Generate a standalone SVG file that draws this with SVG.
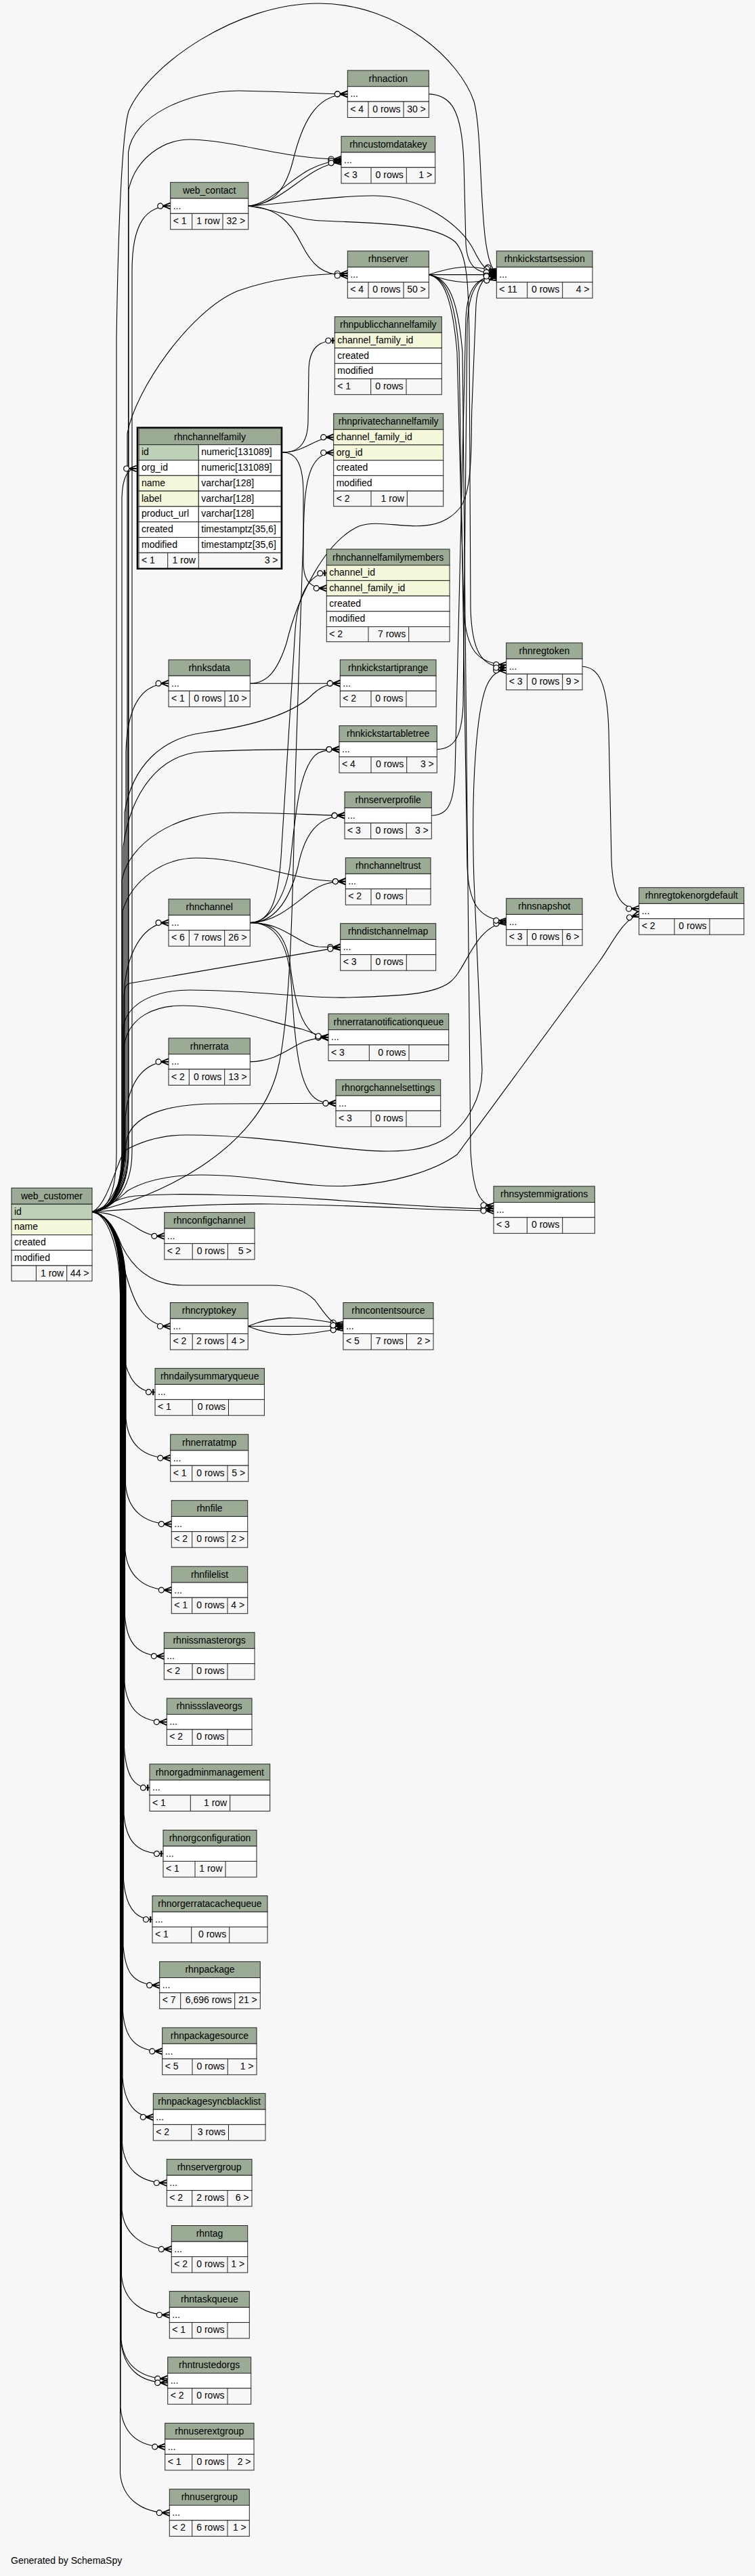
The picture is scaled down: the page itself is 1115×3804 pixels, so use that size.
<svg xmlns="http://www.w3.org/2000/svg" width="1115" height="3804" viewBox="0 0 1115 3804">
<style>
text{font-family:"Liberation Sans",Arial,Helvetica,sans-serif;font-size:14px;fill:#000}
.t{text-anchor:middle}
.r{text-anchor:end}
.h{fill:#9bab96;stroke:#222;stroke-width:1}
.w{fill:#fff;stroke:#222;stroke-width:1}
.f{fill:#f7f7f7;stroke:#222;stroke-width:1}
.k{fill:#bed1b8;stroke:#222;stroke-width:1}
.i{fill:#f4f7da;stroke:#222;stroke-width:1}
.l{stroke:#222;stroke-width:1;fill:none}
.e{fill:none;stroke:#000;stroke-width:1.1;marker-end:url(#crow)}
.o{fill:none;stroke:#000;stroke-width:1.1;marker-end:url(#tee)}
</style>
<defs>
<marker id="crow" markerUnits="userSpaceOnUse" orient="auto" markerWidth="30" markerHeight="20" viewBox="-22 -10 30 20" refX="0" refY="0" overflow="visible">
<path d="M-11,0L0,-4.5M-11,0L0,0M-11,0L0,4.5" fill="none" stroke="#000" stroke-width="1.8"/>
<circle cx="-15" cy="0" r="4" fill="#f7f7f7" stroke="#000" stroke-width="1.2"/>
</marker>
<marker id="tee" markerUnits="userSpaceOnUse" orient="auto" markerWidth="30" markerHeight="20" viewBox="-22 -10 30 20" refX="0" refY="0" overflow="visible">
<path d="M-6,0L0,0" fill="none" stroke="#000" stroke-width="1.2"/>
<rect x="-4" y="-4.5" width="2.4" height="9" fill="#000"/>
<circle cx="-9.5" cy="0" r="4" fill="#f7f7f7" stroke="#000" stroke-width="1.2"/>
</marker>
</defs>
<rect x="0" y="0" width="1115" height="3804" fill="#f7f7f7"/>
<g id="connectors">
<path class="e" d="M136,1789.6 C158,1789 195,1765 195,1700 L195,400 C195,330 215,304.2 251.7,304.2"/>
<path class="e" d="M136,1789.6 C158,1789 172,1765 172,1700 L172,500 C175,300 182,190 190,164 C220,95 350,5 470,5 C590,5 680,90 700,150 C715,205 705,385 733.3,403"/>
<path class="e" d="M136,1789.6 C158,1789 189.5,1765 189.5,1700 L189.5,225 C196,170 280,134 353,134 C420,135 470,138.9 513.3,138.9"/>
<path class="e" d="M136,1789.6 C158,1789 190,1765 190,1700 L190,280 C200,235 240,205 283,206 C350,208 420,235 504,235"/>
<path class="e" d="M136,1789.6 C158,1789 188,1765 188,1700 L188,640 C200,575 280,460 350,430 C400,412 460,404 513.3,404"/>
<path class="e" d="M136,1789.6 C158,1789 180,1765 180,1700 L180,735 C181,705 188,692 201.7,692"/>
<path class="e" d="M136,1789.6 C230,1770 380,1700 410,1580 C430,1500 433,1300 436,1150 L449,760 C451,700 462,668.5 492.7,668.5"/>
<path class="o" d="M417.3,668 C445,668 455,650 455,620 L456,545 C457,515 470,503 494.3,503"/>
<path class="e" d="M417.3,668 C450,668 465,645.7 492.7,645.7"/>
<path class="e" d="M417.3,668 C440,668 448,690 448,730 L448,830 C448,860 460,868.7 482.3,868.7"/>
<path class="o" d="M369.3,1362.6 C400,1362 412,1330 416,1250 L436,930 C440,880 455,848 482.3,846"/>
<path class="e" d="M369.3,1009.2 L502.3,1009.2"/>
<path class="e" d="M369.3,1009.2 C395,1009 410,990 423,950 C440,880 480,800 530,777 C570,762 640,800 680,749 C700,720 695,640 697,600 L703,450 C705,420 715,406 733.3,406"/>
<path class="e" d="M136,1789.6 C158,1789 186,1765 186,1700 L186,1110 C188,1040 210,1009.2 249,1009.2"/>
<path class="e" d="M136,1789.6 C158,1789 184,1765 184,1700 L184,1200 C195,1130 240,1090 300,1082 C390,1070 440,1048 462,1025 C475,1013 487,1009.2 502.3,1009.2"/>
<path class="e" d="M136,1789.6 C158,1789 182,1765 182,1700 L182,1250 C193,1170 235,1113 300,1110 C380,1106 440,1106.6 501,1106.6"/>
<path class="e" d="M369.3,1362.6 C395,1362 420,1330 428,1280 C435,1220 440,1130 470,1112 C480,1107 490,1106.6 501,1106.6"/>
<path class="e" d="M136,1789.6 C158,1789 180,1765 180,1700 L180,1300 C190,1245 260,1200 340,1200 C420,1200 470,1204.2 509,1204.2"/>
<path class="e" d="M369.3,1362.6 C410,1362 430,1320 440,1280 C450,1230 470,1205 509,1204.2"/>
<path class="e" d="M136,1789.6 C158,1789 181,1765 181,1700 L181,1345 C195,1300 240,1267 290,1267 C340,1267 380,1280 413,1288 C450,1297 475,1301.6 510.3,1301.6"/>
<path class="e" d="M369.3,1362.6 C410,1362 440,1330 460,1316 C475,1305 490,1301.6 510.3,1301.6"/>
<path class="e" d="M369.3,1362.6 C420,1362 440,1395 470,1398 C480,1398.6 490,1398.6 502.7,1398.6"/>
<path class="e" d="M136,1789.6 C158,1789 183,1765 183,1700 L183,1470 C184,1458 186,1453 192,1452 L502.7,1398.6"/>
<path class="e" d="M136,1789.6 C158,1789 184,1765 184,1700 L184,1455 C190,1400 215,1362.6 249,1362.6"/>
<path class="e" d="M136,1789.6 C158,1789 182,1765 182,1700 L182,1515 C190,1480 230,1462 280,1462 C380,1462 450,1475 513,1473 C580,1471 640,1470 665,1450 C690,1430 700,1368 747.7,1362"/>
<path class="e" d="M136,1789.6 C158,1789 183,1765 183,1700 L183,1545 C190,1500 230,1485 270,1485 C340,1485 400,1510 446.7,1520 C465,1526 475,1531.9 485,1531.9"/>
<path class="e" d="M369.3,1567.9 C410,1567 430,1545 450,1538 C465,1533 475,1531.9 485,1531.9"/>
<path class="e" d="M369.3,1362.6 C400,1362 420,1375 428,1420 C435,1480 445,1520 470,1530 L485,1531.9"/>
<path class="e" d="M369.3,1362.6 C405,1362 425,1390 430,1450 C436,1540 440,1610 470,1625 C478,1629 488,1629.2 496,1629.2"/>
<path class="e" d="M136,1789.6 C158,1789 185,1760 185,1690 L185,1650 C190,1600 210,1567.9 249,1567.9"/>
<path class="e" d="M136,1789.6 C160,1789 186,1740 186,1690 C190,1645 250,1630 320,1630 L496,1629.2"/>
<path class="e" d="M136,1789.6 C160,1785 175,1770 189,1758 C220,1740 260,1735 298,1735 C380,1735 450,1755 517,1751 C580,1747 640,1730 675,1705 L885,1420 C905,1392 920,1358 943.7,1350"/>
<path class="e" d="M136,1789.6 C160,1780 175,1705 186,1698 C210,1685 240,1676 275,1676 C400,1676 500,1700 574,1700 C620,1700 645,1690 660,1680 C690,1660 712,1620 712,1580 L700,1300 C695,1150 705,1040 720,1010 C727,996 735,990 747.7,990"/>
<path class="e" d="M136,1789.6 C160,1780 175,1768 200,1766 C260,1762 300,1764 344,1765 C420,1766 460,1770 505,1773 C600,1780 680,1785 729,1785"/>
<path class="e" d="M136,1789.6 C200,1785 300,1777 400,1778 C550,1780 650,1788 729,1788"/>
<path class="e" d="M633.3,405.6 C662,410 676,440 683,520 L695,1700 C698,1750 705,1779 729,1781"/>
<path class="e" d="M633.3,405.6 C655,410 668,440 675,520 L685,900 C688,960 705,980 747.7,982"/>
<path class="e" d="M633.3,405.6 C658,410 672,440 678,520 L690,1280 C692,1330 705,1358 747.7,1360"/>
<path class="e" d="M633.3,405.6 C670,393 695,390 733.3,401"/>
<path class="e" d="M633.3,405.6 L733.3,405.6"/>
<path class="e" d="M633.3,405.6 C670,418 695,421 733.3,410"/>
<path class="e" d="M633.3,138.9 C665,140 682,160 685,240 L688,360 C690,395 705,404 733.3,404"/>
<path class="e" d="M366.7,304.2 C430,300 490,289 551,289 C620,289 680,330 700,370 C710,390 718,402 733.3,403"/>
<path class="e" d="M366.7,304.2 C410,310 440,325 476,326 C560,330 640,330 672,357 C690,375 692,420 693,500 L695,900 C697,960 710,986 747.7,986"/>
<path class="e" d="M366.7,304.2 C400,302 420,285 432,240 C445,185 465,138.9 513.3,138.9"/>
<path class="e" d="M366.7,304.2 C410,300 440,240 504,237"/>
<path class="e" d="M366.7,304.2 C420,302 450,245 504,239"/>
<path class="e" d="M366.7,304.2 C410,306 430,330 445,360 C460,390 475,407 513.3,407"/>
<path class="e" d="M645.3,1106.6 C670,1106 682,1090 684,1040 L690,480 C692,430 705,407 733.3,407"/>
<path class="e" d="M637.3,1204.2 C660,1204 670,1190 672,1140 L688,470 C690,425 705,408 733.3,408"/>
<path class="e" d="M860,984.2 C885,985 897,1010 899,1080 L903,1270 C905,1320 915,1342 943.7,1342"/>
<path class="e" d="M366.2,1958.5 C410,1940 450,1945 506.9,1956"/>
<path class="e" d="M366.2,1958.5 L506.9,1958.5"/>
<path class="e" d="M366.2,1958.5 C410,1977 450,1972 506.9,1961"/>
<path class="e" d="M136,1789.6 C160,1795 170,1815 180,1840 C200,1880 230,1898 270,1898 L400,1898 C430,1898 450,1905 465,1920 C480,1940 490,1957 506.9,1958.5"/>
<path class="e" d="M136,1789.6 C165,1790 180,1800 200,1812 C215,1822 225,1825.3 242.8,1825.3"/>
<path class="e" d="M136,1789.6 C160,1792 170,1820 180,1860 C195,1920 210,1958.5 251.4,1958.5"/>
<path class="o" d="M136,1789.6 C158,1792 176,1840 177,1900 L181,1990 C185,2030 200,2055.7 229,2055.7"/>
<path class="e" d="M136,1789.6 C160,1792 186,1830 186,1900 L186,2095.1 C189,2131.1 209.7,2153.1 251.7,2153.1"/>
<path class="e" d="M136,1789.6 C160,1792 185.5,1830 185.5,1900 L185.5,2192.6 C188.5,2228.6 211.3,2250.6 253.3,2250.6"/>
<path class="e" d="M136,1789.6 C160,1792 185,1830 185,1900 L185,2290.1 C188,2326.1 211.3,2348.1 253.3,2348.1"/>
<path class="e" d="M136,1789.6 C160,1792 184.5,1830 184.5,1900 L184.5,2387.6 C187.5,2423.6 200.3,2445.6 242.3,2445.6"/>
<path class="e" d="M136,1789.6 C160,1792 184,1830 184,1900 L184,2484.8 C187,2520.8 204.3,2542.8 246.3,2542.8"/>
<path class="o" d="M136,1789.6 C160,1792 183.5,1830 183.5,1900 L183.5,2581.9 C186.5,2620 196,2639.9 221,2639.9"/>
<path class="o" d="M136,1789.6 C160,1792 183,1830 183,1900 L183,2679.4 C186,2715.4 199,2737.4 241,2737.4"/>
<path class="o" d="M136,1789.6 C160,1792 182.5,1830 182.5,1900 L182.5,2776.5 C185.5,2815 200,2834.5 225,2834.5"/>
<path class="e" d="M136,1789.6 C160,1792 182,1830 182,1900 L182,2873.7 C185,2909.7 193.7,2931.7 235.7,2931.7"/>
<path class="e" d="M136,1789.6 C160,1792 181.5,1830 181.5,1900 L181.5,2971.2 C184.5,3007.2 197.7,3029.2 239.7,3029.2"/>
<path class="e" d="M136,1789.6 C160,1792 181,1830 181,1900 L181,3068.3 C184,3106 200,3126.3 226.3,3126.3"/>
<path class="e" d="M136,1789.6 C160,1792 180.5,1830 180.5,1900 L180.5,3165.5 C183.5,3201.5 204.3,3223.5 246.3,3223.5"/>
<path class="e" d="M136,1789.6 C160,1792 180,1830 180,1900 L180,3263.4 C183,3299.4 211.3,3321.4 253.3,3321.4"/>
<path class="e" d="M136,1789.6 C160,1792 179.5,1830 179.5,1900 L179.5,3360.5 C182.5,3396.5 208.3,3418.5 250.3,3418.5"/>
<path class="e" d="M136,1789.6 C160,1792 179,1830 179,1900 L179,3454.7 C182,3490.7 205.7,3512.7 247.7,3512.7"/>
<path class="e" d="M136,1789.6 C160,1792 178.5,1830 178.5,1900 L178.5,3455 C181.5,3496.7 205.7,3518.7 247.7,3518.7"/>
<path class="e" d="M136,1789.6 C160,1792 178,1830 178,1900 L178,3555.2 C181,3591.2 201.7,3613.2 243.7,3613.2"/>
<path class="e" d="M136,1789.6 C160,1792 177.5,1830 177.5,1900 L177.5,3652.7 C180.5,3688.7 208.3,3710.7 250.3,3710.7"/>
</g>
<g id="rhnaction"><rect class="h" x="513.3" y="104" width="120" height="23.7"/><rect class="w" x="513.3" y="127.7" width="120" height="22.3"/><rect class="f" x="513.3" y="150" width="120" height="23.5"/><path class="l" d="M544,150V173.5M596,150V173.5"/><text class="t" x="573.3" y="120.5">rhnaction</text><text x="517.3" y="143.3">...</text><text x="517.3" y="165.5">&lt; 4</text><text class="r" x="591.5" y="165.5">0 rows</text><text class="r" x="628.8" y="165.5">30 &gt;</text></g>
<g id="rhncustomdatakey"><rect class="h" x="504" y="201.3" width="138.7" height="23.7"/><rect class="w" x="504" y="225" width="138.7" height="22.3"/><rect class="f" x="504" y="247.3" width="138.7" height="23.5"/><path class="l" d="M548,247.3V270.8M600.3,247.3V270.8"/><text class="t" x="573.35" y="217.8">rhncustomdatakey</text><text x="508" y="240.6">...</text><text x="508" y="262.8">&lt; 3</text><text class="r" x="595.8" y="262.8">0 rows</text><text class="r" x="638.2" y="262.8">1 &gt;</text></g>
<g id="web_contact"><rect class="h" x="251.7" y="269.3" width="115" height="23.7"/><rect class="w" x="251.7" y="293" width="115" height="22.3"/><rect class="f" x="251.7" y="315.3" width="115" height="23.5"/><path class="l" d="M283.7,315.3V338.8M329,315.3V338.8"/><text class="t" x="309.2" y="285.8">web_contact</text><text x="255.7" y="308.6">...</text><text x="255.7" y="330.8">&lt; 1</text><text class="r" x="324.5" y="330.8">1 row</text><text class="r" x="362.2" y="330.8">32 &gt;</text></g>
<g id="rhnserver"><rect class="h" x="513.3" y="370.7" width="120" height="23.7"/><rect class="w" x="513.3" y="394.4" width="120" height="22.3"/><rect class="f" x="513.3" y="416.7" width="120" height="23.5"/><path class="l" d="M544,416.7V440.2M596,416.7V440.2"/><text class="t" x="573.3" y="387.2">rhnserver</text><text x="517.3" y="410">...</text><text x="517.3" y="432.2">&lt; 4</text><text class="r" x="591.5" y="432.2">0 rows</text><text class="r" x="628.8" y="432.2">50 &gt;</text></g>
<g id="rhnkickstartsession"><rect class="h" x="733.3" y="370.7" width="141.7" height="23.7"/><rect class="w" x="733.3" y="394.4" width="141.7" height="22.3"/><rect class="f" x="733.3" y="416.7" width="141.7" height="23.5"/><path class="l" d="M778.7,416.7V440.2M830.7,416.7V440.2"/><text class="t" x="804.15" y="387.2">rhnkickstartsession</text><text x="737.3" y="410">...</text><text x="737.3" y="432.2">&lt; 11</text><text class="r" x="826.2" y="432.2">0 rows</text><text class="r" x="870.5" y="432.2">4 &gt;</text></g>
<g id="rhnpublicchannelfamily"><rect class="h" x="494.3" y="467.7" width="158" height="23.6"/><rect class="i" x="494.3" y="491.3" width="158" height="22.7"/><rect class="w" x="494.3" y="514" width="158" height="22.7"/><rect class="w" x="494.3" y="536.7" width="158" height="22.7"/><rect class="f" x="494.3" y="559.4" width="158" height="23.3"/><path class="l" d="M547.7,559.4V582.7M600,559.4V582.7"/><text class="t" x="573.3" y="484.2">rhnpublicchannelfamily</text><text x="498.3" y="506.8">channel_family_id</text><text x="498.3" y="529.5">created</text><text x="498.3" y="552.2">modified</text><text x="498.3" y="575">&lt; 1</text><text class="r" x="595.5" y="575">0 rows</text></g>
<g id="rhnprivatechannelfamily"><rect class="h" x="492.7" y="610.7" width="162" height="23.6"/><rect class="i" x="492.7" y="634.3" width="162" height="22.7"/><rect class="i" x="492.7" y="657" width="162" height="22.7"/><rect class="w" x="492.7" y="679.7" width="162" height="22.7"/><rect class="w" x="492.7" y="702.4" width="162" height="22.7"/><rect class="f" x="492.7" y="725.1" width="162" height="22.6"/><path class="l" d="M548,725.1V747.7M601.3,725.1V747.7"/><text class="t" x="573.7" y="627.2">rhnprivatechannelfamily</text><text x="496.7" y="649.8">channel_family_id</text><text x="496.7" y="672.5">org_id</text><text x="496.7" y="695.2">created</text><text x="496.7" y="717.9">modified</text><text x="496.7" y="740.5">&lt; 2</text><text class="r" x="596.8" y="740.5">1 row</text></g>
<g id="rhnchannelfamily"><rect x="202.9" y="631.5" width="213.2" height="208.3" fill="none" stroke="#000" stroke-width="2.4"/><rect class="h" x="205" y="632.7" width="210" height="24"/><rect class="k" x="205" y="656.7" width="88.3" height="22.8"/><rect class="w" x="293.3" y="656.7" width="121.7" height="22.8"/><rect class="w" x="205" y="679.5" width="88.3" height="22.8"/><rect class="w" x="293.3" y="679.5" width="121.7" height="22.8"/><rect class="i" x="205" y="702.3" width="88.3" height="22.8"/><rect class="w" x="293.3" y="702.3" width="121.7" height="22.8"/><rect class="i" x="205" y="725.1" width="88.3" height="22.8"/><rect class="w" x="293.3" y="725.1" width="121.7" height="22.8"/><rect class="w" x="205" y="747.9" width="88.3" height="22.8"/><rect class="w" x="293.3" y="747.9" width="121.7" height="22.8"/><rect class="w" x="205" y="770.7" width="88.3" height="22.8"/><rect class="w" x="293.3" y="770.7" width="121.7" height="22.8"/><rect class="w" x="205" y="793.5" width="88.3" height="22.8"/><rect class="w" x="293.3" y="793.5" width="121.7" height="22.8"/><rect class="f" x="205" y="816.3" width="210" height="22.7"/><path class="l" d="M247.7,816.3V839M293.3,816.3V839"/><text class="t" x="310" y="649.5">rhnchannelfamily</text><text x="209" y="672.2">id</text><text x="297.3" y="672.2">numeric[131089]</text><text x="209" y="695">org_id</text><text x="297.3" y="695">numeric[131089]</text><text x="209" y="717.8">name</text><text x="297.3" y="717.8">varchar[128]</text><text x="209" y="740.6">label</text><text x="297.3" y="740.6">varchar[128]</text><text x="209" y="763.4">product_url</text><text x="297.3" y="763.4">varchar[128]</text><text x="209" y="786.2">created</text><text x="297.3" y="786.2">timestamptz[35,6]</text><text x="209" y="809">modified</text><text x="297.3" y="809">timestamptz[35,6]</text><text x="209" y="831.7">&lt; 1</text><text class="r" x="288.8" y="831.7">1 row</text><text class="r" x="410.5" y="831.7">3 &gt;</text></g>
<g id="rhnchannelfamilymembers"><rect class="h" x="482.3" y="811" width="181.7" height="23.7"/><rect class="i" x="482.3" y="834.7" width="181.7" height="22.7"/><rect class="i" x="482.3" y="857.4" width="181.7" height="22.7"/><rect class="w" x="482.3" y="880.1" width="181.7" height="22.7"/><rect class="w" x="482.3" y="902.8" width="181.7" height="22.7"/><rect class="f" x="482.3" y="925.5" width="181.7" height="22.2"/><path class="l" d="M544,925.5V947.7M603.7,925.5V947.7"/><text class="t" x="573.15" y="827.5">rhnchannelfamilymembers</text><text x="486.3" y="850.2">channel_id</text><text x="486.3" y="872.9">channel_family_id</text><text x="486.3" y="895.6">created</text><text x="486.3" y="918.3">modified</text><text x="486.3" y="941">&lt; 2</text><text class="r" x="599.2" y="941">7 rows</text></g>
<g id="rhnksdata"><rect class="h" x="249" y="974.3" width="120.3" height="23.7"/><rect class="w" x="249" y="998" width="120.3" height="22.3"/><rect class="f" x="249" y="1020.3" width="120.3" height="23.5"/><path class="l" d="M279.7,1020.3V1043.8M332,1020.3V1043.8"/><text class="t" x="309.15" y="990.8">rhnksdata</text><text x="253" y="1013.6">...</text><text x="253" y="1035.8">&lt; 1</text><text class="r" x="327.5" y="1035.8">0 rows</text><text class="r" x="364.8" y="1035.8">10 &gt;</text></g>
<g id="rhnkickstartiprange"><rect class="h" x="502.3" y="974.3" width="141.7" height="23.7"/><rect class="w" x="502.3" y="998" width="141.7" height="22.3"/><rect class="f" x="502.3" y="1020.3" width="141.7" height="23.5"/><path class="l" d="M548,1020.3V1043.8M600,1020.3V1043.8"/><text class="t" x="573.15" y="990.8">rhnkickstartiprange</text><text x="506.3" y="1013.6">...</text><text x="506.3" y="1035.8">&lt; 2</text><text class="r" x="595.5" y="1035.8">0 rows</text></g>
<g id="rhnkickstartabletree"><rect class="h" x="501" y="1071.7" width="144.3" height="23.7"/><rect class="w" x="501" y="1095.4" width="144.3" height="22.3"/><rect class="f" x="501" y="1117.7" width="144.3" height="23.5"/><path class="l" d="M548,1117.7V1141.2M600.7,1117.7V1141.2"/><text class="t" x="573.15" y="1088.2">rhnkickstartabletree</text><text x="505" y="1111">...</text><text x="505" y="1133.2">&lt; 4</text><text class="r" x="596.2" y="1133.2">0 rows</text><text class="r" x="640.8" y="1133.2">3 &gt;</text></g>
<g id="rhnserverprofile"><rect class="h" x="509" y="1169.3" width="128.3" height="23.7"/><rect class="w" x="509" y="1193" width="128.3" height="22.3"/><rect class="f" x="509" y="1215.3" width="128.3" height="23.5"/><path class="l" d="M547.7,1215.3V1238.8M600.3,1215.3V1238.8"/><text class="t" x="573.15" y="1185.8">rhnserverprofile</text><text x="513" y="1208.6">...</text><text x="513" y="1230.8">&lt; 3</text><text class="r" x="595.8" y="1230.8">0 rows</text><text class="r" x="632.8" y="1230.8">3 &gt;</text></g>
<g id="rhnchanneltrust"><rect class="h" x="510.3" y="1266.7" width="125.7" height="23.7"/><rect class="w" x="510.3" y="1290.4" width="125.7" height="22.3"/><rect class="f" x="510.3" y="1312.7" width="125.7" height="23.5"/><path class="l" d="M548,1312.7V1336.2M600.3,1312.7V1336.2"/><text class="t" x="573.15" y="1283.2">rhnchanneltrust</text><text x="514.3" y="1306">...</text><text x="514.3" y="1328.2">&lt; 2</text><text class="r" x="595.8" y="1328.2">0 rows</text></g>
<g id="rhndistchannelmap"><rect class="h" x="502.7" y="1363.7" width="141" height="23.7"/><rect class="w" x="502.7" y="1387.4" width="141" height="22.3"/><rect class="f" x="502.7" y="1409.7" width="141" height="23.5"/><path class="l" d="M548,1409.7V1433.2M600.3,1409.7V1433.2"/><text class="t" x="573.2" y="1380.2">rhndistchannelmap</text><text x="506.7" y="1403">...</text><text x="506.7" y="1425.2">&lt; 3</text><text class="r" x="595.8" y="1425.2">0 rows</text></g>
<g id="rhnchannel"><rect class="h" x="249" y="1327.7" width="120.3" height="23.7"/><rect class="w" x="249" y="1351.4" width="120.3" height="22.3"/><rect class="f" x="249" y="1373.7" width="120.3" height="23.5"/><path class="l" d="M279.3,1373.7V1397.2M331.7,1373.7V1397.2"/><text class="t" x="309.15" y="1344.2">rhnchannel</text><text x="253" y="1367">...</text><text x="253" y="1389.2">&lt; 6</text><text class="r" x="327.2" y="1389.2">7 rows</text><text class="r" x="364.8" y="1389.2">26 &gt;</text></g>
<g id="rhnerratanotificationqueue"><rect class="h" x="485" y="1497" width="177.7" height="23.7"/><rect class="w" x="485" y="1520.7" width="177.7" height="22.3"/><rect class="f" x="485" y="1543" width="177.7" height="23.5"/><path class="l" d="M545.3,1543V1566.5M604,1543V1566.5"/><text class="t" x="573.85" y="1513.5">rhnerratanotificationqueue</text><text x="489" y="1536.3">...</text><text x="489" y="1558.5">&lt; 3</text><text class="r" x="599.5" y="1558.5">0 rows</text></g>
<g id="rhnerrata"><rect class="h" x="249" y="1533" width="120.3" height="23.7"/><rect class="w" x="249" y="1556.7" width="120.3" height="22.3"/><rect class="f" x="249" y="1579" width="120.3" height="23.5"/><path class="l" d="M279.3,1579V1602.5M331.7,1579V1602.5"/><text class="t" x="309.15" y="1549.5">rhnerrata</text><text x="253" y="1572.3">...</text><text x="253" y="1594.5">&lt; 2</text><text class="r" x="327.2" y="1594.5">0 rows</text><text class="r" x="364.8" y="1594.5">13 &gt;</text></g>
<g id="rhnorgchannelsettings"><rect class="h" x="496" y="1594.3" width="154.7" height="23.7"/><rect class="w" x="496" y="1618" width="154.7" height="22.3"/><rect class="f" x="496" y="1640.3" width="154.7" height="23.5"/><path class="l" d="M548,1640.3V1663.8M600,1640.3V1663.8"/><text class="t" x="573.35" y="1610.8">rhnorgchannelsettings</text><text x="500" y="1633.6">...</text><text x="500" y="1655.8">&lt; 3</text><text class="r" x="595.5" y="1655.8">0 rows</text></g>
<g id="rhnregtoken"><rect class="h" x="747.7" y="949.3" width="112.3" height="23.7"/><rect class="w" x="747.7" y="973" width="112.3" height="22.3"/><rect class="f" x="747.7" y="995.3" width="112.3" height="23.5"/><path class="l" d="M778.5,995.3V1018.8M830.7,995.3V1018.8"/><text class="t" x="803.85" y="965.8">rhnregtoken</text><text x="751.7" y="988.6">...</text><text x="751.7" y="1010.8">&lt; 3</text><text class="r" x="826.2" y="1010.8">0 rows</text><text class="r" x="855.5" y="1010.8">9 &gt;</text></g>
<g id="rhnsnapshot"><rect class="h" x="747.7" y="1326.7" width="112.3" height="23.7"/><rect class="w" x="747.7" y="1350.4" width="112.3" height="22.3"/><rect class="f" x="747.7" y="1372.7" width="112.3" height="23.5"/><path class="l" d="M778.5,1372.7V1396.2M830.7,1372.7V1396.2"/><text class="t" x="803.85" y="1343.2">rhnsnapshot</text><text x="751.7" y="1366">...</text><text x="751.7" y="1388.2">&lt; 3</text><text class="r" x="826.2" y="1388.2">0 rows</text><text class="r" x="855.5" y="1388.2">6 &gt;</text></g>
<g id="rhnregtokenorgdefault"><rect class="h" x="943.7" y="1310.7" width="155" height="23.7"/><rect class="w" x="943.7" y="1334.4" width="155" height="22.3"/><rect class="f" x="943.7" y="1356.7" width="155" height="23.5"/><path class="l" d="M996,1356.7V1380.2M1048,1356.7V1380.2"/><text class="t" x="1021.2" y="1327.2">rhnregtokenorgdefault</text><text x="947.7" y="1350">...</text><text x="947.7" y="1372.2">&lt; 2</text><text class="r" x="1043.5" y="1372.2">0 rows</text></g>
<g id="rhnsystemmigrations"><rect class="h" x="729" y="1751.8" width="149.3" height="23.7"/><rect class="w" x="729" y="1775.5" width="149.3" height="22.3"/><rect class="f" x="729" y="1797.8" width="149.3" height="23.5"/><path class="l" d="M778.4,1797.8V1821.3M830.7,1797.8V1821.3"/><text class="t" x="803.65" y="1768.3">rhnsystemmigrations</text><text x="733" y="1791.1">...</text><text x="733" y="1813.3">&lt; 3</text><text class="r" x="826.2" y="1813.3">0 rows</text></g>
<g id="web_customer"><rect class="h" x="17" y="1754.3" width="119" height="23.9"/><rect class="k" x="17" y="1778.2" width="119" height="22.7"/><rect class="i" x="17" y="1800.9" width="119" height="22.7"/><rect class="w" x="17" y="1823.6" width="119" height="22.7"/><rect class="w" x="17" y="1846.3" width="119" height="22.7"/><rect class="f" x="17" y="1869" width="119" height="22.8"/><path class="l" d="M53.4,1869V1891.8M98.7,1869V1891.8"/><text class="t" x="76.5" y="1771">web_customer</text><text x="21" y="1793.7">id</text><text x="21" y="1816.4">name</text><text x="21" y="1839.1">created</text><text x="21" y="1861.8">modified</text><text class="r" x="94.2" y="1884.5">1 row</text><text class="r" x="131.5" y="1884.5">44 &gt;</text></g>
<g id="rhnconfigchannel"><rect class="h" x="242.8" y="1790.4" width="133.2" height="23.7"/><rect class="w" x="242.8" y="1814.1" width="133.2" height="22.3"/><rect class="f" x="242.8" y="1836.4" width="133.2" height="23.5"/><path class="l" d="M284.2,1836.4V1859.9M336.4,1836.4V1859.9"/><text class="t" x="309.4" y="1806.9">rhnconfigchannel</text><text x="246.8" y="1829.7">...</text><text x="246.8" y="1851.9">&lt; 2</text><text class="r" x="331.9" y="1851.9">0 rows</text><text class="r" x="371.5" y="1851.9">5 &gt;</text></g>
<g id="rhncryptokey"><rect class="h" x="251.4" y="1923.6" width="114.8" height="23.7"/><rect class="w" x="251.4" y="1947.3" width="114.8" height="22.3"/><rect class="f" x="251.4" y="1969.6" width="114.8" height="23.5"/><path class="l" d="M284.2,1969.6V1993.1M335.8,1969.6V1993.1"/><text class="t" x="308.8" y="1940.1">rhncryptokey</text><text x="255.4" y="1962.9">...</text><text x="255.4" y="1985.1">&lt; 2</text><text class="r" x="331.3" y="1985.1">2 rows</text><text class="r" x="361.7" y="1985.1">4 &gt;</text></g>
<g id="rhncontentsource"><rect class="h" x="506.9" y="1923.6" width="133.1" height="23.7"/><rect class="w" x="506.9" y="1947.3" width="133.1" height="22.3"/><rect class="f" x="506.9" y="1969.6" width="133.1" height="23.5"/><path class="l" d="M548.2,1969.6V1993.1M600.5,1969.6V1993.1"/><text class="t" x="573.45" y="1940.1">rhncontentsource</text><text x="510.9" y="1962.9">...</text><text x="510.9" y="1985.1">&lt; 5</text><text class="r" x="596" y="1985.1">7 rows</text><text class="r" x="635.5" y="1985.1">2 &gt;</text></g>
<g id="rhndailysummaryqueue"><rect class="h" x="229" y="2020.7" width="161.4" height="23.7"/><rect class="w" x="229" y="2044.4" width="161.4" height="22.3"/><rect class="f" x="229" y="2066.7" width="161.4" height="23.5"/><path class="l" d="M284.2,2066.7V2090.2M337.5,2066.7V2090.2"/><text class="t" x="309.7" y="2037.2">rhndailysummaryqueue</text><text x="233" y="2060">...</text><text x="233" y="2082.2">&lt; 1</text><text class="r" x="333" y="2082.2">0 rows</text></g>
<g id="rhnerratatmp"><rect class="h" x="251.7" y="2118.2" width="115" height="23.7"/><rect class="w" x="251.7" y="2141.9" width="115" height="22.3"/><rect class="f" x="251.7" y="2164.2" width="115" height="23.5"/><path class="l" d="M283.7,2164.2V2187.7M336,2164.2V2187.7"/><text class="t" x="309.2" y="2134.7">rhnerratatmp</text><text x="255.7" y="2157.5">...</text><text x="255.7" y="2179.7">&lt; 1</text><text class="r" x="331.5" y="2179.7">0 rows</text><text class="r" x="362.2" y="2179.7">5 &gt;</text></g>
<g id="rhnfile"><rect class="h" x="253.3" y="2215.7" width="112.4" height="23.7"/><rect class="w" x="253.3" y="2239.4" width="112.4" height="22.3"/><rect class="f" x="253.3" y="2261.7" width="112.4" height="23.5"/><path class="l" d="M283.7,2261.7V2285.2M336,2261.7V2285.2"/><text class="t" x="309.5" y="2232.2">rhnfile</text><text x="257.3" y="2255">...</text><text x="257.3" y="2277.2">&lt; 2</text><text class="r" x="331.5" y="2277.2">0 rows</text><text class="r" x="361.2" y="2277.2">2 &gt;</text></g>
<g id="rhnfilelist"><rect class="h" x="253.3" y="2313.2" width="112.4" height="23.7"/><rect class="w" x="253.3" y="2336.9" width="112.4" height="22.3"/><rect class="f" x="253.3" y="2359.2" width="112.4" height="23.5"/><path class="l" d="M283.7,2359.2V2382.7M336,2359.2V2382.7"/><text class="t" x="309.5" y="2329.7">rhnfilelist</text><text x="257.3" y="2352.5">...</text><text x="257.3" y="2374.7">&lt; 1</text><text class="r" x="331.5" y="2374.7">0 rows</text><text class="r" x="361.2" y="2374.7">4 &gt;</text></g>
<g id="rhnissmasterorgs"><rect class="h" x="242.3" y="2410.7" width="133.7" height="23.7"/><rect class="w" x="242.3" y="2434.4" width="133.7" height="22.3"/><rect class="f" x="242.3" y="2456.7" width="133.7" height="23.5"/><path class="l" d="M284,2456.7V2480.2M336,2456.7V2480.2"/><text class="t" x="309.15" y="2427.2">rhnissmasterorgs</text><text x="246.3" y="2450">...</text><text x="246.3" y="2472.2">&lt; 2</text><text class="r" x="331.5" y="2472.2">0 rows</text></g>
<g id="rhnissslaveorgs"><rect class="h" x="246.3" y="2507.9" width="125.7" height="23.7"/><rect class="w" x="246.3" y="2531.6" width="125.7" height="22.3"/><rect class="f" x="246.3" y="2553.9" width="125.7" height="23.5"/><path class="l" d="M284,2553.9V2577.4M336,2553.9V2577.4"/><text class="t" x="309.15" y="2524.4">rhnissslaveorgs</text><text x="250.3" y="2547.2">...</text><text x="250.3" y="2569.4">&lt; 2</text><text class="r" x="331.5" y="2569.4">0 rows</text></g>
<g id="rhnorgadminmanagement"><rect class="h" x="221" y="2605" width="177.7" height="23.7"/><rect class="w" x="221" y="2628.7" width="177.7" height="22.3"/><rect class="f" x="221" y="2651" width="177.7" height="23.5"/><path class="l" d="M281.3,2651V2674.5M339.7,2651V2674.5"/><text class="t" x="309.85" y="2621.5">rhnorgadminmanagement</text><text x="225" y="2644.3">...</text><text x="225" y="2666.5">&lt; 1</text><text class="r" x="335.2" y="2666.5">1 row</text></g>
<g id="rhnorgconfiguration"><rect class="h" x="241" y="2702.5" width="138" height="23.7"/><rect class="w" x="241" y="2726.2" width="138" height="22.3"/><rect class="f" x="241" y="2748.5" width="138" height="23.5"/><path class="l" d="M288,2748.5V2772M333,2748.5V2772"/><text class="t" x="310" y="2719">rhnorgconfiguration</text><text x="245" y="2741.8">...</text><text x="245" y="2764">&lt; 1</text><text class="r" x="328.5" y="2764">1 row</text></g>
<g id="rhnorgerratacachequeue"><rect class="h" x="225" y="2799.6" width="170" height="23.7"/><rect class="w" x="225" y="2823.3" width="170" height="22.3"/><rect class="f" x="225" y="2845.6" width="170" height="23.5"/><path class="l" d="M282.7,2845.6V2869.1M338.7,2845.6V2869.1"/><text class="t" x="310" y="2816.1">rhnorgerratacachequeue</text><text x="229" y="2838.9">...</text><text x="229" y="2861.1">&lt; 1</text><text class="r" x="334.2" y="2861.1">0 rows</text></g>
<g id="rhnpackage"><rect class="h" x="235.7" y="2896.8" width="148.6" height="23.7"/><rect class="w" x="235.7" y="2920.5" width="148.6" height="22.3"/><rect class="f" x="235.7" y="2942.8" width="148.6" height="23.5"/><path class="l" d="M266.7,2942.8V2966.3M346.7,2942.8V2966.3"/><text class="t" x="310" y="2913.3">rhnpackage</text><text x="239.7" y="2936.1">...</text><text x="239.7" y="2958.3">&lt; 7</text><text class="r" x="342.2" y="2958.3">6,696 rows</text><text class="r" x="379.8" y="2958.3">21 &gt;</text></g>
<g id="rhnpackagesource"><rect class="h" x="239.7" y="2994.3" width="139.3" height="23.7"/><rect class="w" x="239.7" y="3018" width="139.3" height="22.3"/><rect class="f" x="239.7" y="3040.3" width="139.3" height="23.5"/><path class="l" d="M284,3040.3V3063.8M336.3,3040.3V3063.8"/><text class="t" x="309.35" y="3010.8">rhnpackagesource</text><text x="243.7" y="3033.6">...</text><text x="243.7" y="3055.8">&lt; 5</text><text class="r" x="331.8" y="3055.8">0 rows</text><text class="r" x="374.5" y="3055.8">1 &gt;</text></g>
<g id="rhnpackagesyncblacklist"><rect class="h" x="226.3" y="3091.4" width="165.7" height="23.7"/><rect class="w" x="226.3" y="3115.1" width="165.7" height="22.3"/><rect class="f" x="226.3" y="3137.4" width="165.7" height="23.5"/><path class="l" d="M282.7,3137.4V3160.9M337.5,3137.4V3160.9"/><text class="t" x="309.15" y="3107.9">rhnpackagesyncblacklist</text><text x="230.3" y="3130.7">...</text><text x="230.3" y="3152.9">&lt; 2</text><text class="r" x="333" y="3152.9">3 rows</text></g>
<g id="rhnservergroup"><rect class="h" x="246.3" y="3188.6" width="125.7" height="23.7"/><rect class="w" x="246.3" y="3212.3" width="125.7" height="22.3"/><rect class="f" x="246.3" y="3234.6" width="125.7" height="23.5"/><path class="l" d="M283.7,3234.6V3258.1M336,3234.6V3258.1"/><text class="t" x="309.15" y="3205.1">rhnservergroup</text><text x="250.3" y="3227.9">...</text><text x="250.3" y="3250.1">&lt; 2</text><text class="r" x="331.5" y="3250.1">2 rows</text><text class="r" x="367.5" y="3250.1">6 &gt;</text></g>
<g id="rhntag"><rect class="h" x="253.3" y="3286.5" width="112.4" height="23.7"/><rect class="w" x="253.3" y="3310.2" width="112.4" height="22.3"/><rect class="f" x="253.3" y="3332.5" width="112.4" height="23.5"/><path class="l" d="M283.7,3332.5V3356M336,3332.5V3356"/><text class="t" x="309.5" y="3303">rhntag</text><text x="257.3" y="3325.8">...</text><text x="257.3" y="3348">&lt; 2</text><text class="r" x="331.5" y="3348">0 rows</text><text class="r" x="361.2" y="3348">1 &gt;</text></g>
<g id="rhntaskqueue"><rect class="h" x="250.3" y="3383.6" width="118" height="23.7"/><rect class="w" x="250.3" y="3407.3" width="118" height="22.3"/><rect class="f" x="250.3" y="3429.6" width="118" height="23.5"/><path class="l" d="M283.7,3429.6V3453.1M336,3429.6V3453.1"/><text class="t" x="309.3" y="3400.1">rhntaskqueue</text><text x="254.3" y="3422.9">...</text><text x="254.3" y="3445.1">&lt; 1</text><text class="r" x="331.5" y="3445.1">0 rows</text></g>
<g id="rhntrustedorgs"><rect class="h" x="247.7" y="3480.8" width="123" height="23.7"/><rect class="w" x="247.7" y="3504.5" width="123" height="22.3"/><rect class="f" x="247.7" y="3526.8" width="123" height="23.5"/><path class="l" d="M283.7,3526.8V3550.3M336,3526.8V3550.3"/><text class="t" x="309.2" y="3497.3">rhntrustedorgs</text><text x="251.7" y="3520.1">...</text><text x="251.7" y="3542.3">&lt; 2</text><text class="r" x="331.5" y="3542.3">0 rows</text></g>
<g id="rhnuserextgroup"><rect class="h" x="243.7" y="3578.3" width="131.3" height="23.7"/><rect class="w" x="243.7" y="3602" width="131.3" height="22.3"/><rect class="f" x="243.7" y="3624.3" width="131.3" height="23.5"/><path class="l" d="M283.7,3624.3V3647.8M336.3,3624.3V3647.8"/><text class="t" x="309.35" y="3594.8">rhnuserextgroup</text><text x="247.7" y="3617.6">...</text><text x="247.7" y="3639.8">&lt; 1</text><text class="r" x="331.8" y="3639.8">0 rows</text><text class="r" x="370.5" y="3639.8">2 &gt;</text></g>
<g id="rhnusergroup"><rect class="h" x="250.3" y="3675.8" width="118" height="23.7"/><rect class="w" x="250.3" y="3699.5" width="118" height="22.3"/><rect class="f" x="250.3" y="3721.8" width="118" height="23.5"/><path class="l" d="M283.7,3721.8V3745.3M336,3721.8V3745.3"/><text class="t" x="309.3" y="3692.3">rhnusergroup</text><text x="254.3" y="3715.1">...</text><text x="254.3" y="3737.3">&lt; 2</text><text class="r" x="331.5" y="3737.3">6 rows</text><text class="r" x="363.8" y="3737.3">1 &gt;</text></g>
<text x="16" y="3786">Generated by SchemaSpy</text>
</svg>
